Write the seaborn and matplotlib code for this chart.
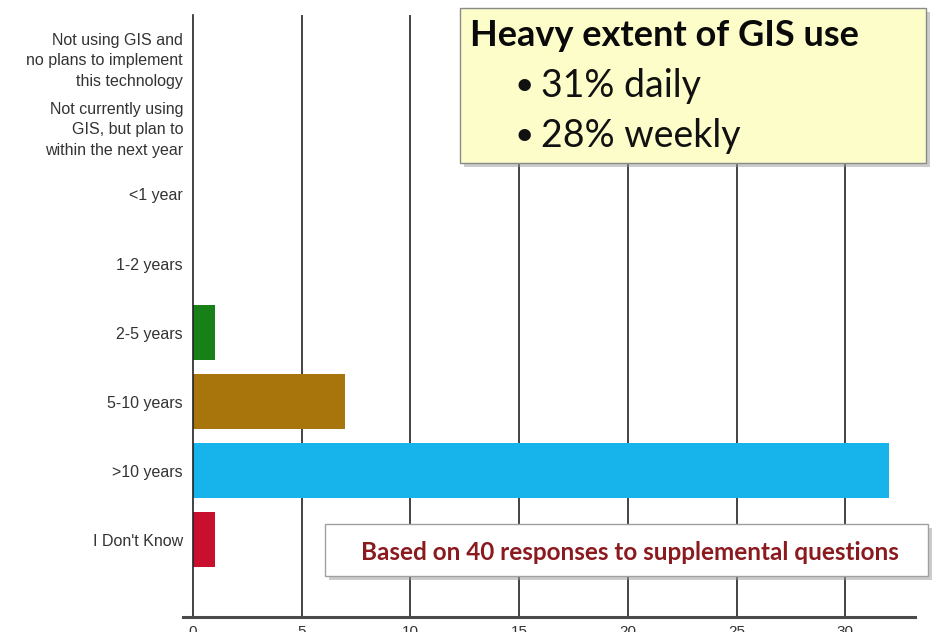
import matplotlib
matplotlib.use("Agg")
import matplotlib.pyplot as plt
from matplotlib.patches import Rectangle
import pandas as pd
import seaborn as sns

# Survey answers, top to bottom as shown
categories = [
    "Not using GIS and\nno plans to implement\nthis technology",
    "Not currently using\nGIS, but plan to\nwithin the next year",
    "<1 year",
    "1-2 years",
    "2-5 years",
    "5-10 years",
    ">10 years",
    "I Don't Know",
]
counts = [0, 0, 0, 0, 1, 7, 32, 1]
bar_colors = ["#178017", "#178017", "#178017", "#178017",
              "#178017", "#a8740c", "#17b4ec", "#c8102e"]
x_ticks = [0, 5, 10, 15, 20, 25, 30]

callout_title = "Heavy extent of GIS use"
callout_lines = ["31% daily", "28% weekly"]
footnote = "Based on 40 responses to supplemental questions"


def main():
    sns.set_style("white")
    plt.rcParams["font.family"] = ["Liberation Sans", "DejaVu Sans"]

    df = pd.DataFrame({"answer": categories, "count": counts})

    W, H = 932, 632
    fig = plt.figure(figsize=(W / 100, H / 100), dpi=100)
    ax = fig.add_axes([183 / W, 1 - 617 / H, 732 / W, 602 / H])

    sns.barplot(data=df, y="answer", x="count", hue="answer",
                palette=dict(zip(categories, bar_colors)), order=categories,
                width=0.8, linewidth=0, saturation=1, legend=False, ax=ax)

    ax.set_xlim(-0.45, 33.2)
    ax.set_ylim(8.12, -0.6)
    ax.set_xticks(x_ticks)
    ax.set_xlabel("")
    ax.set_ylabel("")

    # vertical gridlines behind the bars
    ax.set_axisbelow(True)
    for v in x_ticks[1:]:
        ax.axvline(v, color="#222222", lw=1.2, zorder=0)

    for s in ["top", "right"]:
        ax.spines[s].set_visible(False)
    ax.spines["left"].set_position(("data", 0))
    ax.spines["left"].set_color("#222222")
    ax.spines["left"].set_linewidth(1.2)
    ax.spines["bottom"].set_color("#4a4a4a")
    ax.spines["bottom"].set_linewidth(2.2)

    ax.tick_params(axis="y", length=6, width=1.2, color="#222222",
                   labelsize=11.5, labelcolor="#333333", pad=1)
    ax.tick_params(axis="x", length=6, width=1.2, color="#222222",
                   labelsize=11, labelcolor="#333333", pad=0,
                   direction="out")
    for lbl in ax.get_yticklabels():
        lbl.set_linespacing(1.45)

    # callout boxes with a soft shadow
    def box(x0, y0, x1, y1, face, edge):
        fig.patches.append(Rectangle((x0 / W + 4 / W, 1 - y1 / H - 4 / H),
                                     (x1 - x0) / W, (y1 - y0) / H,
                                     transform=fig.transFigure,
                                     facecolor="#9a9a9a", alpha=0.5,
                                     edgecolor="none", zorder=5))
        fig.patches.append(Rectangle((x0 / W, 1 - y1 / H),
                                     (x1 - x0) / W, (y1 - y0) / H,
                                     transform=fig.transFigure,
                                     facecolor=face, edgecolor=edge,
                                     lw=1, zorder=6))

    box(460, 8, 926, 163, "#fdfdc9", "#8a8a8a")
    fig.text(470 / W, 1 - 36 / H, callout_title, fontsize=26,
             fontweight="bold", family=["Lato", "DejaVu Sans"],
             va="center", ha="left", color="#0a0a0a", zorder=7)
    for i, line in enumerate(callout_lines):
        y = 1 - (86 + 50 * i) / H
        fig.text(524 / W, y, "\u2022", fontsize=24,
                 family=["Lato", "DejaVu Sans"], va="center", ha="center",
                 color="#111111", zorder=7)
        fig.text(541 / W, y, line, fontsize=27,
                 family=["Lato", "DejaVu Sans"], va="center", ha="left",
                 color="#111111", zorder=7)

    box(325, 524, 928, 576, "white", "#a0a0a0")
    fig.text(630 / W, 1 - 552 / H, footnote, fontsize=17.5, fontweight="bold",
             family=["Lato", "DejaVu Sans"], color="#8b1a1f",
             va="center", ha="center", zorder=7)

    fig.savefig("out.png", dpi=100)


if __name__ == "__main__":
    main()
